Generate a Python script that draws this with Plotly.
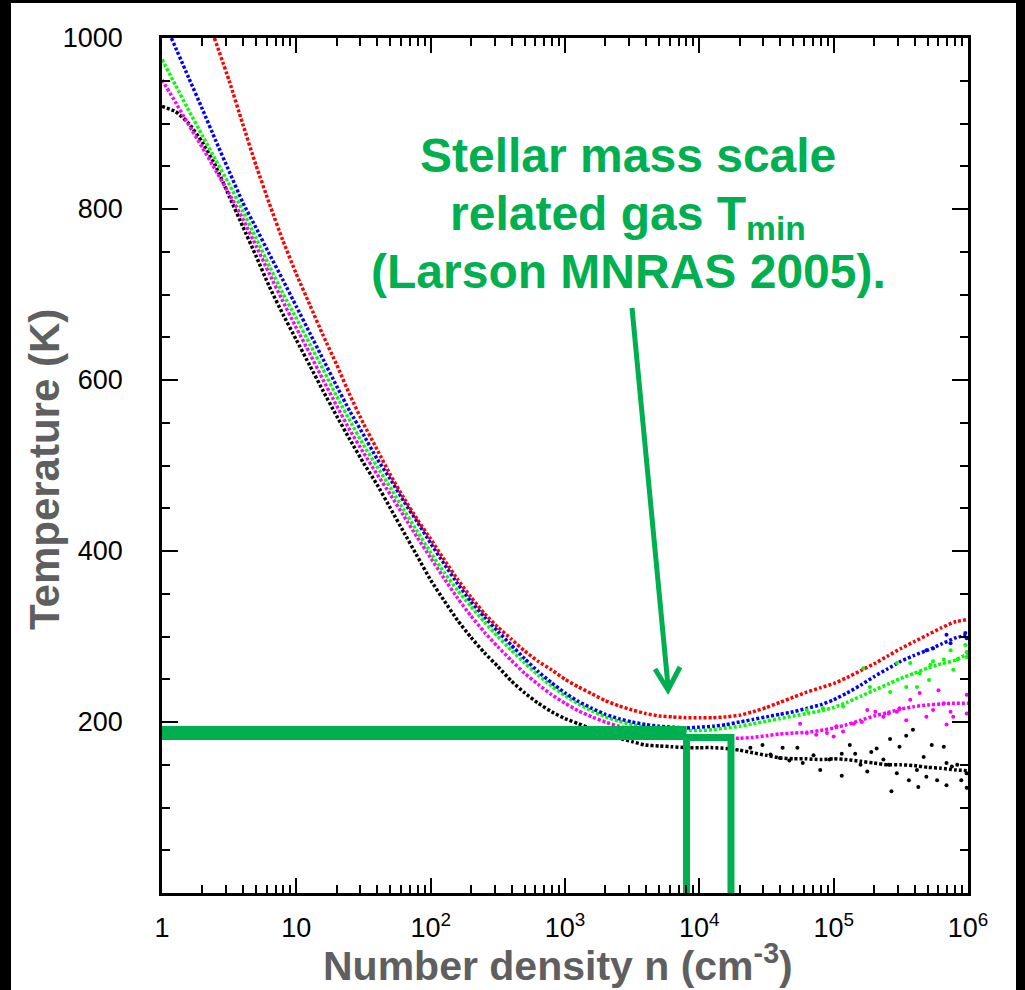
import plotly.graph_objects as go

# ---------------- data ----------------
# log10 of number density (cm^-3) and temperature (K) along each curve
red_logn = [0.39, 0.50, 0.60, 0.70, 0.80, 0.90, 1.00, 1.10, 1.20, 1.30, 1.40, 1.50, 1.60, 1.70,
            1.80, 1.90, 2.00, 2.10, 2.20, 2.30, 2.40, 2.50, 2.60, 2.70, 2.80, 2.90, 3.00, 3.10,
            3.20, 3.30, 3.40, 3.50, 3.60, 3.70, 3.80, 3.90, 4.00, 4.10, 4.20, 4.30, 4.40, 4.50,
            4.60, 4.70, 4.80, 4.90, 5.00, 5.10, 5.20, 5.30, 5.40, 5.50, 5.60, 5.70, 5.80, 5.90, 6.00]
red_T = [1000, 950, 900, 851, 806, 763, 724, 688, 652, 618, 582, 549, 519, 489,
         462, 437, 414, 390, 367, 346, 327, 311, 297, 283, 271, 261, 250, 241,
         233, 225, 219, 214, 210, 207, 206, 205, 205, 205, 206, 208, 212, 217,
         223, 229, 235, 240, 245, 252, 260, 268, 277, 286, 294, 302, 310, 317, 320]

grid_logn = [0.00, 0.10, 0.20, 0.30, 0.40, 0.50, 0.60, 0.70, 0.80, 0.90, 1.00, 1.10, 1.20, 1.30,
             1.40, 1.50, 1.60, 1.70, 1.80, 1.90, 2.00, 2.10, 2.20, 2.30, 2.40, 2.50, 2.60, 2.70,
             2.80, 2.90, 3.00, 3.10, 3.20, 3.30, 3.40, 3.50, 3.60, 3.70, 3.80, 3.90, 4.00, 4.10,
             4.20, 4.30, 4.40, 4.50, 4.60, 4.70, 4.80, 4.90, 5.00, 5.10, 5.20, 5.30, 5.40, 5.50,
             5.60, 5.70, 5.80, 5.90, 6.00]

blue_logn = [0.07, 0.20, 0.30, 0.40, 0.50, 0.60, 0.70, 0.80, 0.90, 1.00, 1.10, 1.20, 1.30,
             1.40, 1.50, 1.60, 1.70, 1.80, 1.90, 2.00, 2.10, 2.20, 2.30, 2.40, 2.50, 2.60, 2.70,
             2.80, 2.90, 3.00, 3.10, 3.20, 3.30, 3.40, 3.50, 3.60, 3.70, 3.80, 3.90, 4.00, 4.10,
             4.20, 4.30, 4.40, 4.50, 4.60, 4.70, 4.80, 4.90, 5.00, 5.10, 5.20, 5.30, 5.40, 5.50,
             5.60, 5.70, 5.80, 5.90, 6.00]
blue_T = [1000, 953, 917, 880, 844, 808, 778, 747, 717, 686, 655, 624, 593,
          563, 536, 508, 484, 458, 434, 409, 385, 362, 341, 323, 306, 290, 274,
          259, 246, 234, 224, 216, 209, 204, 200, 197, 195, 194, 193, 194, 195,
          197, 200, 203, 206, 209, 212, 216, 220, 226, 234, 243, 253, 262, 271,
          278, 284, 291, 298, 302]

green_logn = grid_logn
green_T = [975, 945, 915, 886, 857, 829, 798, 766, 733, 701, 672, 642, 612, 581,
           552, 524, 499, 474, 448, 423, 398, 375, 354, 335, 317, 300, 284, 269,
           255, 242, 231, 221, 213, 206, 201, 197, 194, 192, 191, 190, 190, 191,
           193, 195, 198, 201, 204, 207, 210, 213, 217, 223, 230, 237, 244, 251,
           257, 263, 268, 272, 280]

magenta_logn = grid_logn
magenta_T = [951, 925, 898, 872, 845, 818, 789, 757, 724, 692, 661, 631, 600, 570,
             541, 515, 490, 466, 441, 416, 392, 368, 345, 324, 305, 288, 272, 257,
             244, 232, 222, 213, 206, 200, 195, 191, 188, 186, 184, 183, 182, 181,
             181, 181, 182, 184, 186, 187, 188, 190, 193, 197, 202, 207, 211, 215,
             218, 220, 221, 222, 222]

black_logn = grid_logn
black_T = [920, 914, 900, 878, 850, 815, 780, 745, 709, 677, 647, 617, 587, 558,
           530, 503, 478, 450, 422, 394, 366, 342, 319, 299, 281, 265, 248, 234,
           222, 212, 204, 198, 192, 186, 181, 177, 173, 172, 171, 170, 170, 170,
           169, 167, 164, 161, 158, 157, 157, 156, 157, 156, 154, 152, 150, 150,
           149, 147, 146, 144, 143]

# scattered points at high density
black_cloud_logn = [4.38, 4.47, 4.53, 4.60, 4.62, 4.67, 4.73, 4.77, 4.85, 4.90, 4.97, 5.06, 5.06,
                    5.12, 5.16, 5.20, 5.25, 5.28, 5.32, 5.37, 5.41, 5.42, 5.43, 5.47, 5.49, 5.54,
                    5.56, 5.59, 5.62, 5.63, 5.67, 5.69, 5.73, 5.77, 5.82, 5.84, 5.84, 5.88, 5.92,
                    5.95, 5.99, 5.99]
black_cloud_T = [170, 173, 162, 158, 170, 155, 170, 152, 161, 144, 156, 137, 163,
                 173, 163, 150, 142, 165, 169, 156, 150, 180, 119, 140, 171, 184,
                 132, 191, 144, 124, 159, 136, 173, 132, 171, 152, 126, 148, 150,
                 132, 123, 140]
magenta_cloud_logn = [4.75, 4.80, 4.87, 4.95, 5.00, 5.02, 5.07, 5.15, 5.21, 5.25, 5.31, 5.37, 5.41,
                      5.47, 5.49, 5.54, 5.57, 5.64, 5.69, 5.74, 5.78, 5.82, 5.84, 5.87, 5.89, 5.99,
                      5.99]
magenta_cloud_T = [198, 187, 185, 187, 183, 195, 189, 198, 200, 214, 212, 206, 210,
                   212, 216, 202, 226, 234, 206, 214, 237, 222, 197, 212, 206, 232,
                   210]
green_cloud_logn = [4.80, 4.92, 5.07, 5.22, 5.27, 5.42, 5.47, 5.54, 5.62, 5.57, 5.64, 5.71, 5.72,
                    5.74, 5.82, 5.87, 5.89, 5.92, 5.99, 5.99, 5.98]
green_cloud_T = [214, 216, 218, 263, 241, 235, 269, 241, 241, 269, 257, 249, 267,
                 271, 273, 284, 261, 273, 282, 276, 290]
blue_cloud_logn = [5.69, 5.74, 5.84, 5.87, 5.99, 5.98]
blue_cloud_T = [284, 286, 302, 292, 298, 304]

# Tmin marker (Larson 2005)
tmin_bar_n = [1, 8030]
tmin_bar_T = [187, 187]
tmin_box_n = [8030, 8030, 17200, 17200]
tmin_box_T = [0, 182, 182, 0]

x_tickvals = [1, 10, 100, 1e3, 1e4, 1e5, 1e6]
x_ticktext = ["1", "10", "10<sup>2</sup>", "10<sup>3</sup>", "10<sup>4</sup>",
              "10<sup>5</sup>", "10<sup>6</sup>"]
x_minor = [k * 10 ** e for e in range(6) for k in range(2, 10)]
y_tickvals = [200, 400, 600, 800, 1000]

GREEN = "#00b050"
GREY = "#5f5f5f"
FONT = "Liberation Sans, Arial, Helvetica, sans-serif"
COLORS = {"black": "black", "magenta": "#ff00ff", "green": "#00ff00",
          "blue": "#0000ff", "red": "#ff0000"}

# ---------------- figure ----------------
W, H = 1025, 990
ML, MR, MT, MB = 162, 57, 38, 97
PW, PH = W - ML - MR, H - MT - MB


def px2paper(px, py):
    return (px - ML) / PW, (H - MB - py) / PH


fig = go.Figure()

series = [
    (black_logn, black_T, COLORS["black"]),
    (magenta_logn, magenta_T, COLORS["magenta"]),
    (green_logn, green_T, COLORS["green"]),
    (blue_logn, blue_T, COLORS["blue"]),
    (red_logn, red_T, COLORS["red"]),
]
for ln, tt, col in series:
    fig.add_trace(go.Scatter(
        x=[10 ** v for v in ln], y=tt, mode="lines",
        line=dict(color=col, width=3.5, dash="3px,2px", shape="spline", smoothing=0.5),
        hoverinfo="skip", showlegend=False))

clouds = [
    (black_cloud_logn, black_cloud_T, COLORS["black"]),
    (magenta_cloud_logn, magenta_cloud_T, COLORS["magenta"]),
    (green_cloud_logn, green_cloud_T, COLORS["green"]),
    (blue_cloud_logn, blue_cloud_T, COLORS["blue"]),
]
for ln, tt, col in clouds:
    fig.add_trace(go.Scatter(
        x=[10 ** v for v in ln], y=tt, mode="markers",
        marker=dict(color=col, size=4, symbol="circle", line=dict(width=0)),
        hoverinfo="skip", showlegend=False))

fig.add_trace(go.Scatter(x=tmin_bar_n, y=tmin_bar_T, mode="lines",
                         line=dict(color=GREEN, width=14), hoverinfo="skip", showlegend=False))
fig.add_trace(go.Scatter(x=tmin_box_n, y=tmin_box_T, mode="lines",
                         line=dict(color=GREEN, width=7), hoverinfo="skip", showlegend=False))

axis_common = dict(
    showline=True, linewidth=2.5, linecolor="black", mirror="ticks",
    ticks="inside", tickwidth=2, tickcolor="black", showgrid=False, zeroline=False,
    tickfont=dict(family=FONT, size=27, color="black"),
)
fig.update_xaxes(type="log", range=[0, 6], tickvals=x_tickvals, ticktext=x_ticktext,
                 ticklen=15, ticklabelstandoff=9,
                 minor=dict(tickvals=x_minor, ticks="inside", ticklen=8, tickwidth=1.5,
                            tickcolor="black", showgrid=False),
                 **axis_common)
fig.update_yaxes(range=[0, 1000], tickvals=y_tickvals, ticklen=16, ticklabelstandoff=31,
                 minor=dict(dtick=50, tick0=0, ticks="inside", ticklen=8, tickwidth=1.5,
                            tickcolor="black", showgrid=False),
                 **axis_common)

# white page on black frame
fx0, fy1 = px2paper(11, 3)
fx1, fy0 = px2paper(1016, 990)
shapes = [dict(type="rect", xref="paper", yref="paper", x0=fx0, x1=fx1, y0=fy0, y1=fy1,
               fillcolor="white", line=dict(width=0), layer="below")]

# arrow (pixel geometry of the annotation)
a0 = px2paper(632, 308)
a1 = px2paper(668, 686)
h1 = px2paper(655, 669)
h2 = px2paper(668, 690)
h3 = px2paper(680, 667)
shapes.append(dict(type="line", xref="paper", yref="paper", x0=a0[0], y0=a0[1], x1=a1[0], y1=a1[1],
                   line=dict(color=GREEN, width=5)))
shapes.append(dict(type="path", xref="paper", yref="paper",
                   path=f"M {h1[0]},{h1[1]} L {h2[0]},{h2[1]} L {h3[0]},{h3[1]}",
                   line=dict(color=GREEN, width=5)))

annotations = []
tx, ty = px2paper(44, 470)
annotations.append(dict(text="<b>Temperature (K)</b>", textangle=-90, x=tx, y=ty,
                        xref="paper", yref="paper", xanchor="center", yanchor="middle",
                        showarrow=False, font=dict(family=FONT, size=42, color=GREY)))
tx, ty = px2paper(558, 963)
annotations.append(dict(text="<b>Number density n (cm<sup>-3</sup>)</b>", x=tx, y=ty,
                        xref="paper", yref="paper", xanchor="center", yanchor="middle",
                        showarrow=False, font=dict(family=FONT, size=41, color=GREY)))
for txt, py in [("<b>Stellar mass scale</b>", 155),
                ("<b>related gas T<sub>min</sub></b>", 217),
                ("<b>(Larson MNRAS 2005).</b>", 271)]:
    tx, ty = px2paper(628, py)
    annotations.append(dict(text=txt, x=tx, y=ty, xref="paper", yref="paper",
                            xanchor="center", yanchor="middle", showarrow=False,
                            font=dict(family=FONT, size=48, color=GREEN)))

fig.update_layout(
    width=W, height=H, margin=dict(l=ML, r=MR, t=MT, b=MB, autoexpand=False),
    paper_bgcolor="black", plot_bgcolor="white",
    shapes=shapes, annotations=annotations, showlegend=False, hovermode=False,
)

fig.write_html("out.html", config={"displayModeBar": False})
